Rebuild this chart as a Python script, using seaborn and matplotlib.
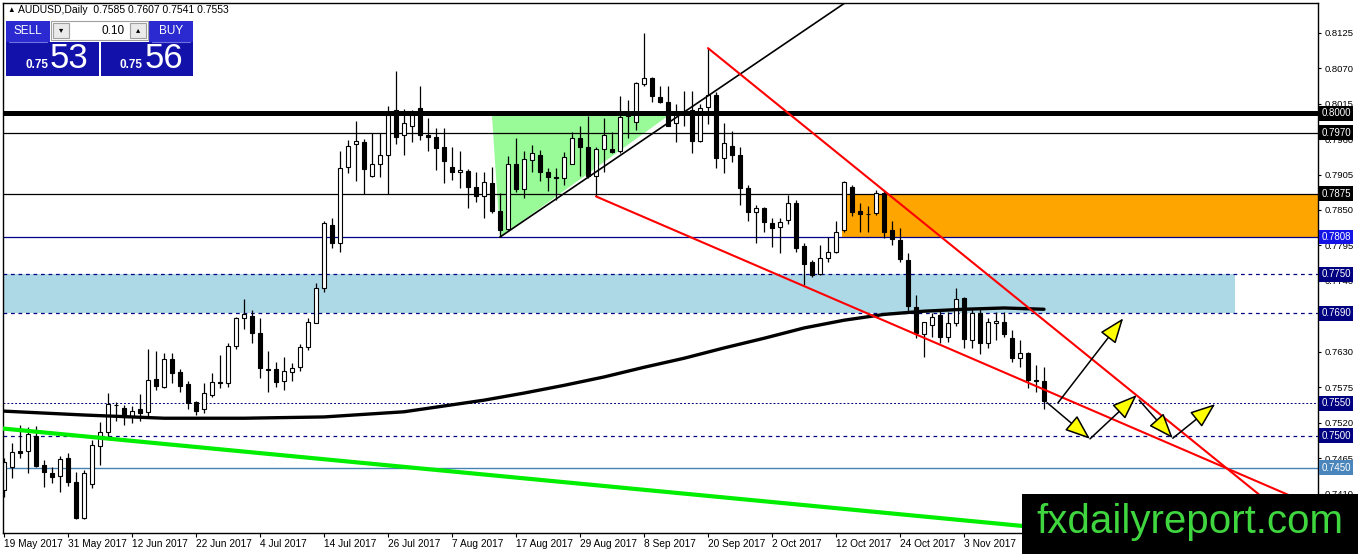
import matplotlib
matplotlib.use('Agg')
import matplotlib.pyplot as plt
import matplotlib.transforms as mtransforms
from matplotlib.patches import Rectangle, Polygon
import numpy as np
import pandas as pd
import seaborn as sns

# daily candles, AUDUSD, 19 May 2017 .. 17 Nov 2017
opens = [0.7416, 0.7451, 0.7476, 0.7476, 0.7499, 0.7454, 0.7442, 0.7437, 0.7465, 0.7428,
         0.7372, 0.7425, 0.7484, 0.7506, 0.7547, 0.7543, 0.7530, 0.7541, 0.7537, 0.7588,
         0.7575, 0.7619, 0.7599, 0.7580, 0.7552, 0.7541, 0.7563, 0.7583, 0.7582, 0.7639,
         0.7682, 0.7685, 0.7659, 0.7603, 0.7603, 0.7585, 0.7599, 0.7606, 0.7637, 0.7675,
         0.7729, 0.7826, 0.7799, 0.7916, 0.7952, 0.7955, 0.7902, 0.7922, 0.7936, 0.8005,
         0.7966, 0.7981, 0.8008, 0.7966, 0.7963, 0.7947, 0.7916, 0.7909, 0.7910, 0.7885,
         0.7871, 0.7892, 0.7848, 0.7820, 0.7922, 0.7882, 0.7927, 0.7936, 0.7909, 0.7901,
         0.7899, 0.7922, 0.7961, 0.7947, 0.7902, 0.7944, 0.7944, 0.7941, 0.7995, 0.7986,
         0.8045, 0.8054, 0.8025, 0.8017, 0.7985, 0.8002, 0.8005, 0.7957, 0.8009, 0.8028,
         0.7930, 0.7949, 0.7936, 0.7884, 0.7847, 0.7853, 0.7830, 0.7823, 0.7834, 0.7861,
         0.7794, 0.7769, 0.7750, 0.7775, 0.7785, 0.7819, 0.7885, 0.7848, 0.7843, 0.7845,
         0.7876, 0.7819, 0.7803, 0.7772, 0.7699, 0.7657, 0.7671, 0.7687, 0.7653, 0.7675,
         0.7713, 0.7648, 0.7690, 0.7644, 0.7675, 0.7677, 0.7651, 0.7620, 0.7628, 0.7586,
         0.7585]
highs = [0.7465, 0.7489, 0.7516, 0.7513, 0.7515, 0.7462, 0.7451, 0.7468, 0.7473, 0.7444,
         0.7447, 0.7493, 0.7521, 0.7566, 0.7552, 0.7547, 0.7546, 0.7564, 0.7634, 0.7631,
         0.7628, 0.7628, 0.7603, 0.7585, 0.7553, 0.7581, 0.7597, 0.7625, 0.7644, 0.7684,
         0.7712, 0.7695, 0.7682, 0.7631, 0.7614, 0.7622, 0.7613, 0.7642, 0.7682, 0.7737,
         0.7833, 0.7837, 0.7941, 0.7958, 0.7988, 0.7960, 0.7969, 0.7969, 0.8012, 0.8065,
         0.8006, 0.8005, 0.8042, 0.7992, 0.7977, 0.7977, 0.7947, 0.7941, 0.7913, 0.7909,
         0.7909, 0.7916, 0.7876, 0.7933, 0.7961, 0.7941, 0.7950, 0.7943, 0.7915, 0.7915,
         0.7940, 0.7971, 0.7981, 0.7995, 0.7947, 0.7992, 0.7971, 0.8026, 0.8020, 0.8048,
         0.8124, 0.8056, 0.8042, 0.8043, 0.8014, 0.8034, 0.8034, 0.8014, 0.8101, 0.8033,
         0.7985, 0.7972, 0.7947, 0.7888, 0.7857, 0.7854, 0.7837, 0.7837, 0.7873, 0.7865,
         0.7799, 0.7772, 0.7795, 0.7808, 0.7833, 0.7895, 0.7888, 0.7861, 0.7856, 0.7881,
         0.7881, 0.7833, 0.7822, 0.7783, 0.7718, 0.7677, 0.7690, 0.7695, 0.7692, 0.7729,
         0.7715, 0.7698, 0.7698, 0.7682, 0.7692, 0.7692, 0.7664, 0.7648, 0.7630, 0.7609,
         0.7607]
lows = [0.7405, 0.7434, 0.7465, 0.7442, 0.7451, 0.7420, 0.7427, 0.7413, 0.7422, 0.7371,
        0.7371, 0.7419, 0.7454, 0.7498, 0.7523, 0.7516, 0.7520, 0.7523, 0.7530, 0.7571,
        0.7574, 0.7581, 0.7568, 0.7541, 0.7532, 0.7535, 0.7560, 0.7574, 0.7575, 0.7634,
        0.7665, 0.7644, 0.7589, 0.7568, 0.7575, 0.7571, 0.7585, 0.7600, 0.7633, 0.7674,
        0.7723, 0.7791, 0.7785, 0.7907, 0.7895, 0.7874, 0.7901, 0.7901, 0.7874, 0.7953,
        0.7935, 0.7955, 0.7958, 0.7941, 0.7912, 0.7892, 0.7896, 0.7884, 0.7853, 0.7862,
        0.7837, 0.7845, 0.7808, 0.7817, 0.7878, 0.7868, 0.7909, 0.7895, 0.7879, 0.7865,
        0.7888, 0.7921, 0.7902, 0.7899, 0.7871, 0.7909, 0.7939, 0.7939, 0.7961, 0.7974,
        0.8042, 0.8017, 0.8016, 0.7980, 0.7955, 0.7981, 0.7938, 0.7955, 0.7983, 0.7915,
        0.7907, 0.7924, 0.7857, 0.7833, 0.7799, 0.7816, 0.7792, 0.7783, 0.7829, 0.7785,
        0.7733, 0.7746, 0.7749, 0.7769, 0.7783, 0.7816, 0.7840, 0.7816, 0.7816, 0.7842,
        0.7806, 0.7795, 0.7769, 0.7692, 0.7651, 0.7622, 0.7653, 0.7644, 0.7645, 0.7670,
        0.7636, 0.7636, 0.7627, 0.7636, 0.7648, 0.7653, 0.7614, 0.7606, 0.7574, 0.7568,
        0.7541]
closes = [0.7459, 0.7475, 0.7473, 0.7502, 0.7453, 0.7444, 0.7436, 0.7464, 0.7428, 0.7372,
          0.7442, 0.7485, 0.7506, 0.7549, 0.7548, 0.7529, 0.7538, 0.7535, 0.7586, 0.7577,
          0.7619, 0.7597, 0.7577, 0.7551, 0.7538, 0.7566, 0.7583, 0.7581, 0.7639, 0.7682,
          0.7688, 0.7659, 0.7605, 0.7602, 0.7583, 0.7600, 0.7605, 0.7637, 0.7676, 0.7729,
          0.7830, 0.7799, 0.7915, 0.7949, 0.7957, 0.7913, 0.7922, 0.7935, 0.7997, 0.7963,
          0.7985, 0.7997, 0.7967, 0.7963, 0.7946, 0.7926, 0.7909, 0.7912, 0.7885, 0.7871,
          0.7893, 0.7848, 0.7819, 0.7922, 0.7882, 0.7929, 0.7938, 0.7909, 0.7901, 0.7899,
          0.7932, 0.7961, 0.7947, 0.7902, 0.7944, 0.7967, 0.7940, 0.7994, 0.8002, 0.8047,
          0.8054, 0.8026, 0.8017, 0.7981, 0.7997, 0.8000, 0.7957, 0.8008, 0.8028, 0.7930,
          0.7954, 0.7935, 0.7884, 0.7847, 0.7853, 0.7831, 0.7822, 0.7831, 0.7861, 0.7791,
          0.7766, 0.7749, 0.7775, 0.7785, 0.7816, 0.7893, 0.7847, 0.7843, 0.7844, 0.7876,
          0.7816, 0.7805, 0.7774, 0.7701, 0.7659, 0.7676, 0.7684, 0.7653, 0.7675, 0.7712,
          0.7650, 0.7690, 0.7644, 0.7677, 0.7678, 0.7657, 0.7620, 0.7628, 0.7586, 0.7585,
          0.7553]

# moving average read at some bars
ma_bar = [0, 10, 20, 30, 40, 50, 55, 60, 65, 70, 75, 80, 85, 90, 95, 100, 105, 110, 115, 120, 125, 130]
ma_val = [0.7538, 0.7532, 0.7527, 0.7527, 0.7529, 0.7537, 0.7546, 0.7555, 0.7566, 0.7578, 0.7591,
          0.7606, 0.7620, 0.7636, 0.7651, 0.7667, 0.7679, 0.7688, 0.7693, 0.7696, 0.7698, 0.7696]

# horizontal levels and their label colours
levels = [0.8000, 0.7970, 0.7875, 0.7808, 0.7750, 0.7690, 0.7550, 0.7500, 0.7450]
level_labels = ['0.8000', '0.7970', '0.7875', '0.7808', '0.7750', '0.7690', '0.7550', '0.7500', '0.7450']
price_ticks = [0.8125, 0.8070, 0.8015, 0.7960, 0.7905, 0.7850, 0.7795, 0.7740, 0.7685,
               0.7630, 0.7575, 0.7520, 0.7465, 0.7410]

# zones (bar from, bar to, price low, price high)
blue_zone = (-0.125, 153.9, 0.7690, 0.7750)
orange_zone = (104.75, 164.25, 0.7808, 0.7875)
tri_bar = [61, 62, 83]
tri_price = [0.7996, 0.7808, 0.7996]

# trend lines (bar, price) pairs
black_trend = ([62, 105.1], [0.7808, 0.8171])
red_upper = ([88, 157.25], [0.8101, 0.7405])
red_lower = ([74, 160.75], [0.7871, 0.7407])
green_trend = ([-0.125, 127.25], [0.7511, 0.7360])

# projected path arrows: (bar0, price0, bar1, price1)
arrows = [(131.75, 0.7551, 139.9, 0.7682),
          (130.4, 0.7551, 135.75, 0.7495),
          (135.75, 0.7495, 141.6, 0.7563),
          (141.9, 0.7555, 146.1, 0.7496),
          (146.1, 0.7496, 151.4, 0.7549)]

dates = pd.bdate_range('2017-05-19', periods=len(opens))

sns.set_theme(style='white')
plt.rcParams['font.family'] = ['Liberation Sans', 'DejaVu Sans']

W, H = 1358, 554
fig = plt.figure(figsize=(W / 100, H / 100), dpi=100)
fig.patch.set_facecolor('white')
ax = fig.add_axes([3 / W, 21 / H, 1315 / W, 530 / H])
ax.set_facecolor('white')

x = np.arange(len(opens))
o = np.array(opens); c = np.array(closes)
hi = np.array(highs); lo = np.array(lows)

# zones
ax.add_patch(Rectangle((blue_zone[0], blue_zone[2]), blue_zone[1] - blue_zone[0],
                       blue_zone[3] - blue_zone[2], fc='#ADD8E6', ec='none', zorder=0.5))
ax.add_patch(Rectangle((orange_zone[0], orange_zone[2]), orange_zone[1] - orange_zone[0],
                       orange_zone[3] - orange_zone[2], fc='#FFA500', ec='none', zorder=0.5))
ax.add_patch(Polygon(list(zip(tri_bar, tri_price)), closed=True, fc='#98FB98', ec='none', zorder=0.6))

# horizontal levels
lv_color = ['black', 'black', 'black', '#00008B', '#000080', '#000080', '#000080', '#000080', '#4682B4']
lv_width = [3.6, 0.9, 0.9, 0.9, 0.9, 0.9, 0.7, 0.9, 1.0]
lv_dash = [None, None, None, None, (3, 3), (3, 3), (2, 2), (3, 3), None]
box_color = ['black', 'black', 'black', '#1414E6', '#000080', '#000080', '#000080', '#000080', '#4A86BC']
for lv, col, lw, ds in zip(levels, lv_color, lv_width, lv_dash):
    line = ax.axhline(lv, color=col, lw=lw, zorder=1.5 if lw < 2 else 3.5)
    if ds:
        line.set_dashes(ds)

# candles
up = c >= o
ax.vlines(x, lo, hi, color='black', lw=0.9, zorder=2)
body = np.maximum(np.abs(c - o), 0.00008)
ax.bar(x[up], body[up], bottom=np.minimum(o, c)[up], width=0.62, color='white',
       edgecolor='black', linewidth=0.8, zorder=2.5)
ax.bar(x[~up], body[~up], bottom=np.minimum(o, c)[~up], width=0.62, color='black',
       edgecolor='black', linewidth=0.8, zorder=2.5)

# moving average
sns.lineplot(x=ma_bar, y=ma_val, color='black', lw=2.4, ax=ax, zorder=3)

# trend lines
sns.lineplot(x=black_trend[0], y=black_trend[1], color='black', lw=1.2, ax=ax, zorder=4)
sns.lineplot(x=red_upper[0], y=red_upper[1], color='#FF0000', lw=1.5, ax=ax, zorder=4)
sns.lineplot(x=red_lower[0], y=red_lower[1], color='#FF0000', lw=1.5, ax=ax, zorder=4)
sns.lineplot(x=green_trend[0], y=green_trend[1], color='#00EE00', lw=3.0, ax=ax, zorder=4)

for b0, p0, b1, p1 in arrows:
    ax.annotate('', xy=(b1, p1), xytext=(b0, p0), zorder=5,
                arrowprops=dict(arrowstyle='-|>,head_length=1.05,head_width=0.4',
                                fc='#FFFF00', ec='black', lw=1.1,
                                shrinkA=0, shrinkB=0, mutation_scale=15))

ax.set_xlim(-0.125, 164.25)
ax.set_ylim(0.7349, 0.8171)

# axes style
for sp in ax.spines.values():
    sp.set_color('black')
    sp.set_linewidth(1.0)
ax.yaxis.tick_right()
ax.set_yticks(price_ticks)
ax.set_yticklabels([f'{p:.4f}' for p in price_ticks])
tick_bars = list(range(0, 121, 8))
ax.set_xticks(tick_bars)
ax.set_xticklabels([f'{dates[i].day} {dates[i].strftime("%b %Y")}' for i in tick_bars], ha='left')
ax.tick_params(axis='y', direction='out', length=2.5, width=0.8, pad=2, labelsize=6.8,
               colors='black', right=True, left=False)
ax.tick_params(axis='x', direction='out', length=3, width=0.8, pad=1.5, labelsize=7.3,
               colors='black', bottom=True)
ax.set_xlabel('')
ax.set_ylabel('')
ax.grid(False)
if ax.get_legend():
    ax.get_legend().remove()

# price boxes on the right axis
trans = mtransforms.blended_transform_factory(ax.transAxes, ax.transData)
for lv, lab, bc in zip(levels, level_labels, box_color):
    ax.text(1.0025, lv, lab, transform=trans, ha='left', va='center', fontsize=7,
            color='white', clip_on=False, zorder=6,
            bbox=dict(boxstyle='square,pad=0.25', fc=bc, ec='none'))

# overlay in pixel space: trade widget, header and watermark
ov = fig.add_axes([0, 0, 1, 1], zorder=10)
ov.set_xlim(0, W)
ov.set_ylim(H, 0)
ov.axis('off')
ov.patch.set_alpha(0)

ov.text(7, 10, '\u25B2', fontsize=5.5, va='center', ha='left', color='black')
ov.text(18, 10, 'AUDUSD,Daily  0.7585 0.7607 0.7541 0.7553', fontsize=7.5,
        va='center', ha='left', color='black')

head_c = '#2A2AD0'
big_c = '#1212AA'
ov.add_patch(Rectangle((6, 21), 44, 21, fc=head_c, ec='none'))
ov.add_patch(Rectangle((149, 21), 44, 21, fc=head_c, ec='none'))
ov.add_patch(Rectangle((6, 42), 93, 34, fc=big_c, ec='none'))
ov.add_patch(Rectangle((101, 42), 92, 34, fc=big_c, ec='none'))
ov.plot([9, 47], [42, 42], color='#7070E0', lw=0.8)
ov.plot([152, 190], [42, 42], color='#7070E0', lw=0.8)
ov.text(28, 31, 'SELL', color='white', fontsize=8.5, ha='center', va='center')
ov.text(171, 31, 'BUY', color='white', fontsize=8.5, ha='center', va='center')
ov.add_patch(Rectangle((51, 21), 97, 19, fc='white', ec='#A0A0A0', lw=0.8))
ov.add_patch(Rectangle((53, 23), 16, 15, fc='#EAEAEA', ec='#A0A0A0', lw=0.8))
ov.add_patch(Rectangle((130, 23), 16, 15, fc='#EAEAEA', ec='#A0A0A0', lw=0.8))
ov.text(61, 30.5, '\u25BE', fontsize=6, ha='center', va='center', color='black')
ov.text(138, 30.5, '\u25B4', fontsize=6, ha='center', va='center', color='black')
ov.text(125, 31, '0.10', fontsize=8.5, ha='right', va='center', color='black')
ov.text(37, 65, '0.75', color='white', fontsize=8.5, fontweight='bold', ha='center', va='center')
ov.text(69, 59, '53', color='white', fontsize=25, ha='center', va='center')
ov.text(131, 65, '0.75', color='white', fontsize=8.5, fontweight='bold', ha='center', va='center')
ov.text(164, 59, '56', color='white', fontsize=25, ha='center', va='center')

ov.add_patch(Rectangle((1022, 494), 336, 60, fc='black', ec='none'))
ov.text(1190, 522, 'fxdailyreport.com', color='#3FD63F', fontsize=29,
        ha='center', va='center', family='Liberation Sans')

fig.savefig('out.png', dpi=100, facecolor='white')
